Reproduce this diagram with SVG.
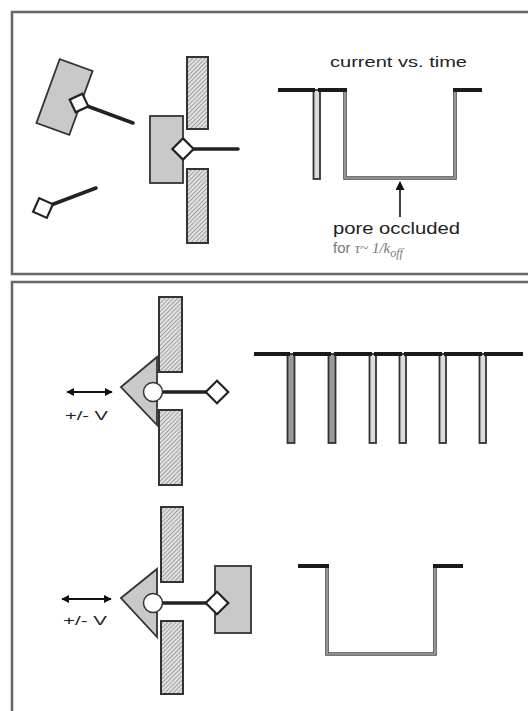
<svg xmlns="http://www.w3.org/2000/svg" width="528" height="711" viewBox="0 0 528 711">
<defs>
<pattern id="hatch" width="3" height="3" patternUnits="userSpaceOnUse" patternTransform="rotate(45)">
<rect width="3" height="3" fill="#e2e2e2"/>
<line x1="0" y1="0" x2="0" y2="3" stroke="#7a7a7a" stroke-width="1.3"/>
</pattern>
<marker id="ah" viewBox="0 0 10 10" refX="9" refY="5" markerWidth="8" markerHeight="8" markerUnits="userSpaceOnUse" orient="auto-start-reverse">
<path d="M0,0 L10,5 L0,10 z" fill="#111"/>
</marker>
<marker id="ah2" viewBox="0 0 10 10" refX="9" refY="5" markerWidth="9" markerHeight="9" markerUnits="userSpaceOnUse" orient="auto">
<path d="M0,0 L10,5 L0,10 z" fill="#111"/>
</marker>
</defs>
<style>
.frame{fill:none;stroke:#666;stroke-width:2.5}
.mem{fill:url(#hatch);stroke:#333;stroke-width:2}
.prot{fill:#c9c9c9;stroke:#333;stroke-width:1.8}
.dia{fill:#fff;stroke:#222;stroke-width:2.2}
.stick{stroke:#222;stroke-width:3.5;stroke-linecap:round;fill:none}
.top{stroke:#1a1a1a;stroke-width:4;fill:none}
.tr{stroke:#4a4a4a;stroke-width:3.6;fill:none;stroke-linejoin:miter}
.tri{stroke:#d0d0d0;stroke-width:1.1;fill:none}
.spk{stroke:#333;stroke-width:1.8;fill:#dcdcdc}
.spkg{stroke:#333;stroke-width:1.8;fill:#9a9a9a}
.lbl{font-family:"Liberation Sans",Arial,sans-serif;fill:#222}
.ser{font-family:"Liberation Serif","Times New Roman",serif;font-style:italic;fill:#777}
</style>
<rect class="frame" x="12" y="12" width="530" height="262"/>
<rect class="frame" x="12" y="282" width="530" height="440"/>

<g id="free-protein-ligand">
<rect class="prot" x="-17.5" y="-34" width="35" height="68" transform="translate(64.5,97) rotate(20)"/>
<line class="stick" x1="79" y1="103" x2="133" y2="123"/>
<rect class="dia" x="-7" y="-7" width="14" height="14" transform="translate(79,103) rotate(65)"/>
</g>
<g id="free-ligand">
<line class="stick" x1="43" y1="208" x2="96" y2="188"/>
<rect class="dia" x="-7.5" y="-7.5" width="15" height="15" transform="translate(43,208) rotate(24)"/>
</g>
<g id="pore-top">
<rect class="prot" x="150" y="116" width="33" height="67"/>
<rect class="mem" x="187" y="57" width="21" height="72"/>
<rect class="mem" x="187" y="169" width="21" height="74"/>
<line class="stick" x1="183" y1="149" x2="238" y2="149"/>
<rect class="dia" x="-7.5" y="-7.5" width="15" height="15" transform="translate(183,149) rotate(45)"/>
</g>
<g id="trace-top">
<text class="lbl" x="330" y="67" font-size="15" textLength="137" lengthAdjust="spacingAndGlyphs">current vs. time</text>
<rect class="spk" x="313.5" y="90" width="6.5" height="89"/>
<path class="tr" d="M345,90 V178 H455 V90"/>
<path class="tri" d="M345,92 V178 H455 V92"/>
<path class="top" d="M278,90 H315 M318,90 H347 M453,90 H482"/>
</g>
<g id="connectors">
<line x1="400" y1="217" x2="400" y2="182" stroke="#111" stroke-width="1.6" marker-end="url(#ah2)"/>
<line x1="67" y1="392" x2="112" y2="392" stroke="#111" stroke-width="1.8" marker-start="url(#ah)" marker-end="url(#ah)"/>
<line x1="62" y1="599" x2="111" y2="599" stroke="#111" stroke-width="1.8" marker-start="url(#ah)" marker-end="url(#ah)"/>
</g>
<g id="occluded-label">
<text class="lbl" x="333" y="234" font-size="16" textLength="127" lengthAdjust="spacingAndGlyphs">pore occluded</text>
<text x="333" y="253" font-size="15"><tspan font-family="Liberation Sans,Arial,sans-serif" fill="#777">for </tspan><tspan class="ser">τ~ 1/k</tspan><tspan class="ser" font-size="12" dy="4">off</tspan></text>
</g>

<g id="pore-mid">
<polygon class="prot" points="121,387 157,357 157,425"/>
<rect class="mem" x="159" y="297" width="23" height="75"/>
<rect class="mem" x="159" y="410" width="23" height="75"/>
<line class="stick" x1="160" y1="392" x2="210" y2="392"/>
<circle cx="153" cy="392" r="9.5" fill="#fff" stroke="#333" stroke-width="1.5"/>
<rect class="dia" x="-8" y="-8" width="16" height="16" transform="translate(217,392) rotate(45)"/>
<text class="lbl" x="65" y="420" font-size="13" textLength="43" lengthAdjust="spacingAndGlyphs">+/- V</text>
</g>
<g id="trace-mid">
<rect class="spkg" x="287.5" y="354" width="7" height="89"/>
<rect class="spkg" x="328.5" y="354" width="7" height="89"/>
<rect class="spk" x="369.5" y="354" width="6.5" height="89"/>
<rect class="spk" x="399.5" y="354" width="6.5" height="89"/>
<rect class="spk" x="439.5" y="354" width="6.5" height="89"/>
<rect class="spk" x="479.5" y="354" width="6.5" height="89"/>
<path class="top" d="M254,354 H290 M293,354 H331 M334,354 H372 M374,354 H402 M404,354 H442 M444,354 H482 M484,354 H523"/>
</g>

<g id="pore-bottom">
<polygon class="prot" points="121,598 157,569 157,637"/>
<rect class="mem" x="161" y="507" width="22" height="75"/>
<rect class="mem" x="161" y="621" width="22" height="73"/>
<rect class="prot" x="215" y="566" width="36" height="67"/>
<line class="stick" x1="160" y1="603" x2="212" y2="603"/>
<circle cx="153" cy="603" r="9.5" fill="#fff" stroke="#333" stroke-width="1.5"/>
<rect class="dia" x="-8" y="-8" width="16" height="16" transform="translate(217,603) rotate(45)"/>
<text class="lbl" x="63" y="625" font-size="13" textLength="44" lengthAdjust="spacingAndGlyphs">+/- V</text>
</g>
<g id="trace-bottom">
<path class="tr" d="M327,566 V654 H435 V566" stroke-width="3"/>
<path class="tri" d="M327,568 V654 H435 V568" stroke-width="0.9"/>
<path class="top" d="M298,566 H329 M433,566 H463"/>
</g>
</svg>
